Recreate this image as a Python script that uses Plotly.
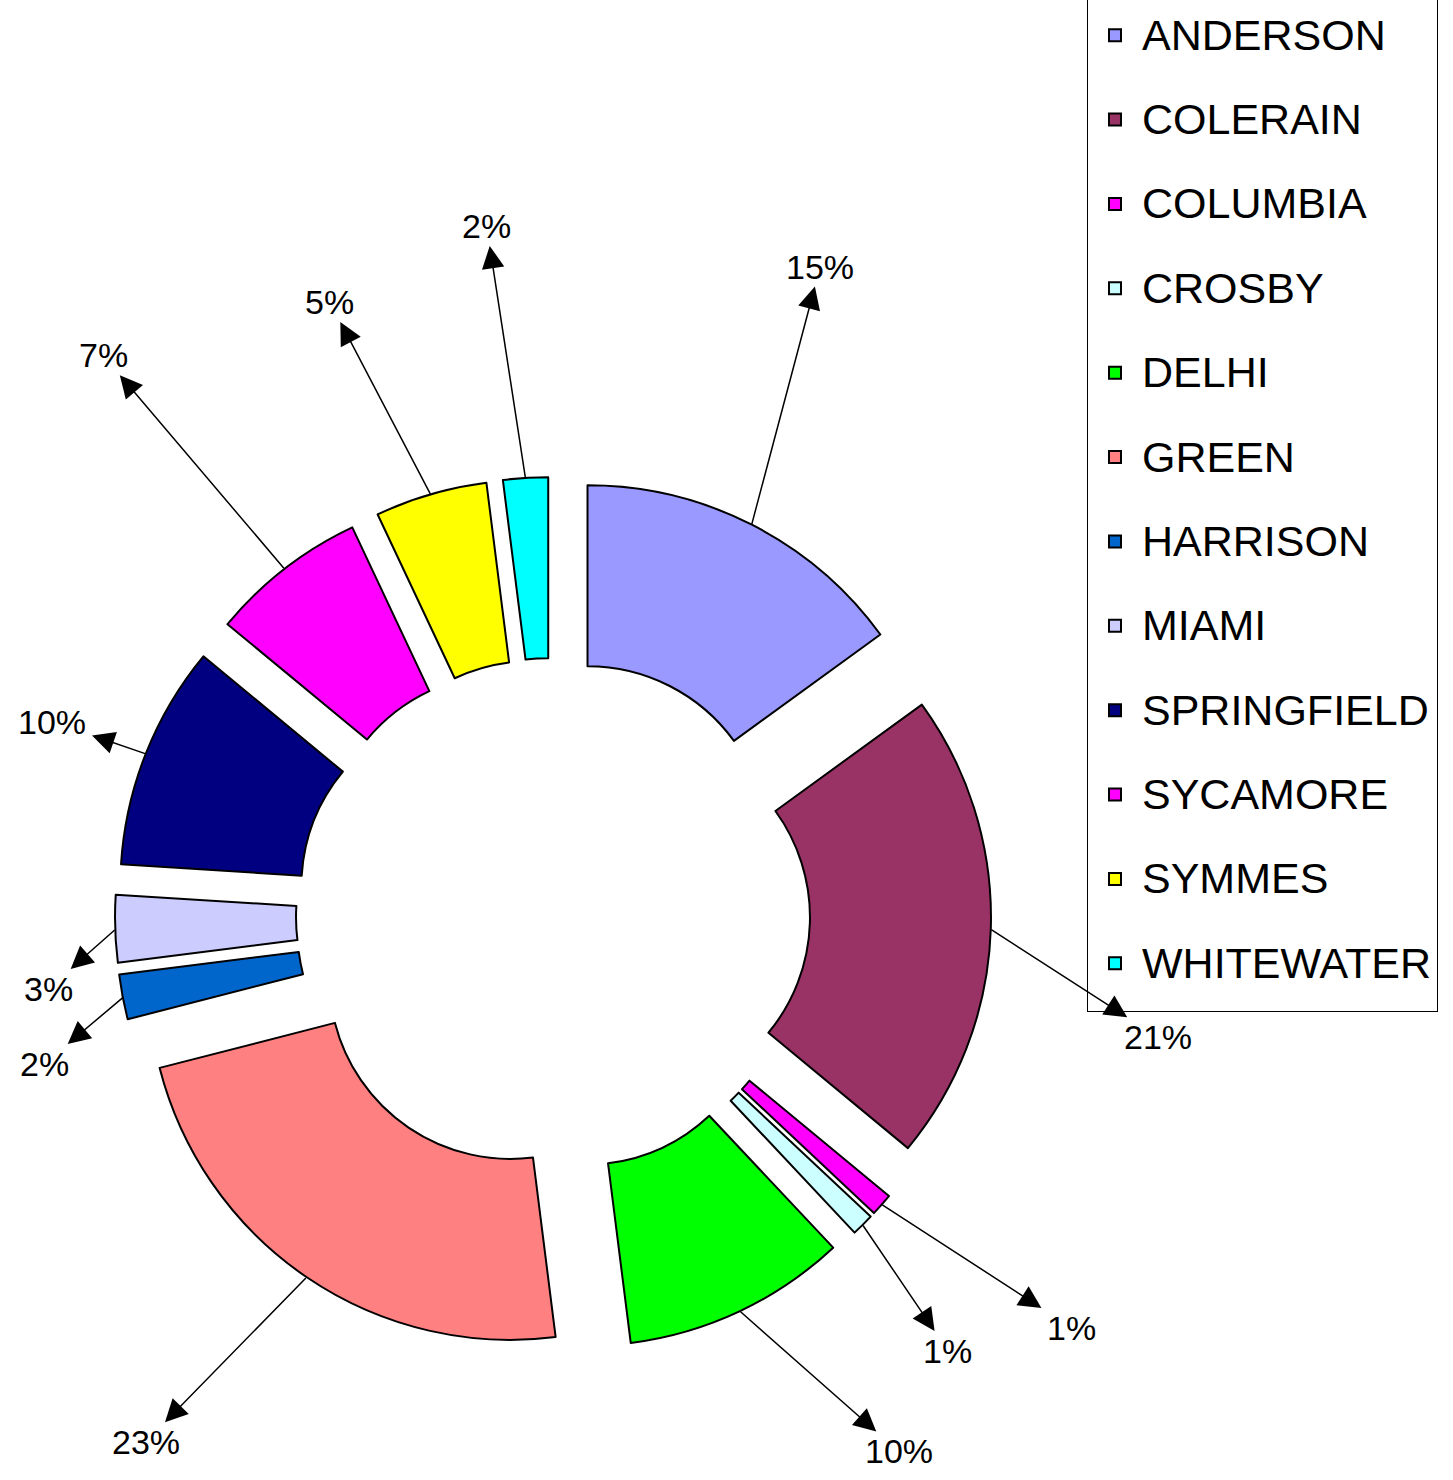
import math
import plotly.graph_objects as go

# ---- data -------------------------------------------------------------
categories = ["ANDERSON", "COLERAIN", "COLUMBIA", "CROSBY", "DELHI", "GREEN",
              "HARRISON", "MIAMI", "SPRINGFIELD", "SYCAMORE", "SYMMES", "WHITEWATER"]
values = [15, 21, 1, 1, 10, 23, 2, 3, 10, 7, 5, 2]
colors = ["#9999FF", "#993366", "#FF00FF", "#CCFFFF", "#00FF00", "#FF8080",
          "#0066CC", "#CCCCFF", "#000080", "#FF00FF", "#FFFF00", "#00FFFF"]

# ---- label layout (angular nudge from slice bisector, reach beyond rim) ----
label_turn = [-4.6, 9.6, -2.9, 2.8, -7.6, 3.5, -5.5, -6.5, -0.5, -1.0, -3.8, -1.9]
label_reach = [263, 179, 225, 150, 200, 228, 92, 72, 99, 280, 214, 254]

# ---- geometry / style --------------------------------------------------
W, H = 1453, 1480
CX, CY = 553, 915          # pie centre in pixels
R = 362                    # pie radius in pixels
PULL = 0.21
HOLE = 0.5
ROUT = R * (1 + PULL)
FONT = "Arial, Liberation Sans, sans-serif"
LFS = 34                   # label font size
HALF = R * (1 + PULL)      # half-size of the pie domain
LEGEND_BOTTOM = 1012       # legend box bottom edge, px from top

legend_labels = [f'<span style="font-size:43px;baseline-shift:10px">{c}</span>'
                 for c in categories]

fig = go.Figure(go.Pie(
    labels=legend_labels,
    values=values,
    sort=False,
    direction="clockwise",
    rotation=0,
    hole=HOLE,
    pull=[PULL] * len(values),
    marker=dict(colors=colors, line=dict(color="black", width=2)),
    textinfo="none",
    hoverinfo="skip",
    domain=dict(x=[(CX - HALF) / W, (CX + HALF) / W],
                y=[(H - CY - HALF) / H, (H - CY + HALF) / H]),
))


def text_width(s, fs):
    w = 0.0
    for ch in s:
        w += 0.889 if ch == "%" else 0.556
    return w * fs


annotations = []
total = float(sum(values))
cum = 0.0
for i, v in enumerate(values):
    bis = (cum + v / 2.0) / total * 360.0
    cum += v
    b = math.radians(bis)
    tx = CX + (ROUT - 1) * math.sin(b)
    ty = CY - (ROUT - 1) * math.cos(b)
    a = math.radians(bis + label_turn[i])
    dist = ROUT + label_reach[i]
    lx = CX + dist * math.sin(a)
    ly = CY - dist * math.cos(a)
    txt = f"{round(v / total * 100)}%"
    hw = text_width(txt, LFS) / 2 + 6
    hh = LFS * 0.58
    dx, dy = lx - tx, ly - ty
    n = math.hypot(dx, dy)
    vx, vy = dx / n, dy / n
    t = min(hw / abs(vx) if abs(vx) > 1e-9 else 1e9,
            hh / abs(vy) if abs(vy) > 1e-9 else 1e9)
    hx, hy = lx - vx * t, ly - vy * t
    annotations.append(dict(
        x=hx / W, y=1 - hy / H, xref="paper", yref="paper",
        ax=tx - hx, ay=ty - hy, axref="pixel", ayref="pixel",
        text="", showarrow=True, arrowhead=2, arrowsize=3, arrowwidth=1.5,
        arrowcolor="black", standoff=0, startstandoff=0,
    ))
    annotations.append(dict(
        x=lx / W, y=1 - ly / H, xref="paper", yref="paper",
        text=txt, showarrow=False, xanchor="center", yanchor="middle",
        font=dict(size=LFS, family=FONT, color="black"),
    ))

fig.update_layout(
    width=W, height=H,
    margin=dict(l=0, r=0, t=0, b=0, autoexpand=False),
    paper_bgcolor="white", plot_bgcolor="white",
    showlegend=True,
    legend=dict(
        x=1087 / W, xanchor="left",
        y=1 - LEGEND_BOTTOM / H, yanchor="bottom",
        bordercolor="black", borderwidth=1, bgcolor="white",
        font=dict(size=62.6, family=FONT, color="black"),
        itemwidth=44, traceorder="normal",
    ),
    annotations=annotations,
)

fig.write_html("out.html", config={"displayModeBar": False},
               post_script="document.body.style.margin='0px';")
